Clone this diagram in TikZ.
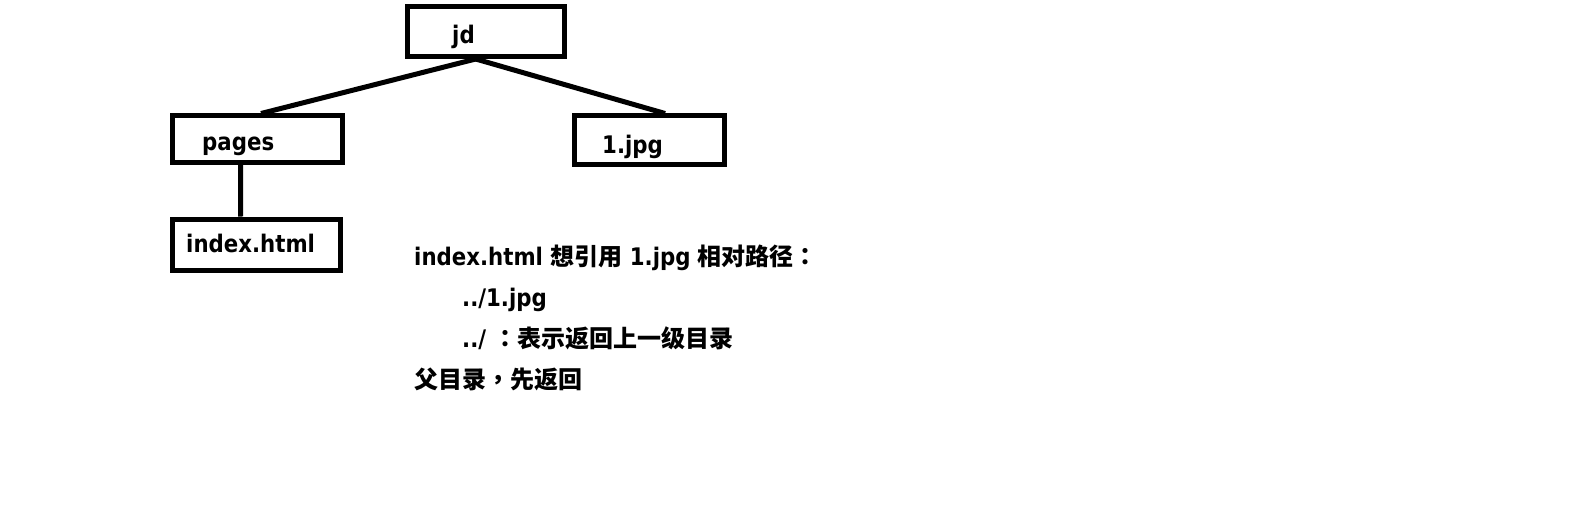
\documentclass[tikz,border=0pt]{standalone}
\usepackage{fontspec}
\setmainfont{DejaVu Sans}[FakeStretch=0.88]
\newfontfamily\cjkfont{Noto Sans CJK SC}
\newfontfamily\cjkpunct{Noto Sans CJK TC}
\usetikzlibrary{calc}
\newcommand\zh[1]{{\cjkfont\bfseries\fontsize{24}{24}\selectfont #1}}
\newcommand\zp[1]{{\cjkpunct\bfseries\fontsize{24}{24}\selectfont #1}}
\begin{document}
\begin{tikzpicture}[x=1pt,y=-1pt,
  box/.style={draw, line width=5pt, rectangle, inner sep=0pt, anchor=center},
  boxtext/.style={anchor=base west, inner sep=0pt, font=\bfseries\fontsize{24.2}{24.2}\selectfont},
  conn/.style={line width=5pt},
  say/.style={anchor=base west, inner sep=0pt, font=\bfseries\fontsize{24.2}{24.2}\selectfont}]
\fill[white] (0,0) rectangle (1586,532);
\useasboundingbox (0,0) rectangle (1586,532);
% boxes
\node[box, minimum width=156.5pt, minimum height=50pt] (jd) at (485.75,31.5) {};
\node[box, minimum width=170pt, minimum height=46.5pt] (pages) at (257.5,139.25) {};
\node[box, minimum width=150pt, minimum height=48pt] (jpg) at (649,140) {};
\node[box, minimum width=168pt, minimum height=51.5pt] (index) at (256.5,244.75) {};
% box labels
\node[boxtext] (jdt) at (452,43.5) {jd};
\node[boxtext] (pagest) at (202,150.5) {pages};
\node[boxtext] (jpgt) at (602,153) {1.jpg};
\node[boxtext] (indext) at (186,252.5) {index.html};
% connectors
\draw[conn] ($(jd.south west)!0.4377!(jd.south east)$) -- ($(pages.north west)!0.52!(pages.north east)$);
\draw[conn] ($(jd.south west)!0.4377!(jd.south east)$) -- ($(jpg.north west)!0.604!(jpg.north east)$);
\draw[conn] ($(pages.south west)!0.403!(pages.south east)$) -- ($(index.north west)!0.408!(index.north east)$);
% explanation text
\node[say] (l1) at (414,265) {index.html \zh{想引用} 1.jpg \zh{相对路径}\zp{：}};
\node[say] (l2) at (462,306) {../1.jpg};
\node[say] (l3) at (462,347) {../ \zp{：}\zh{表示返回上一级目录}};
\node[say] (l4) at (414,388) {\zh{父目录}\zp{，}\zh{先返回}};
\end{tikzpicture}
\end{document}
